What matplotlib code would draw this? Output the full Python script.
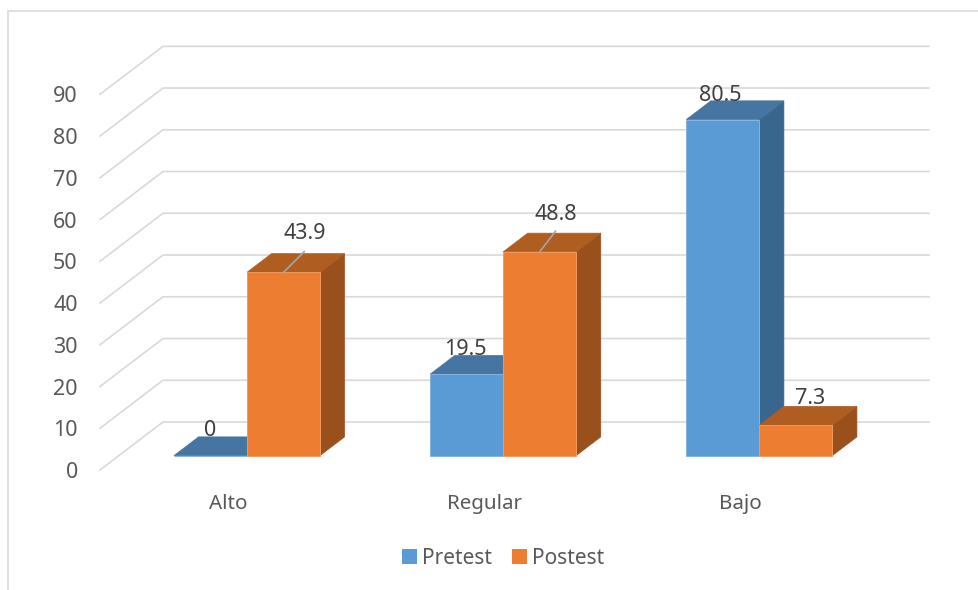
#3D style clustered columns, pretest vs postest per level
import matplotlib.pyplot as plt
from matplotlib.patches import Patch, Polygon
from matplotlib.lines import Line2D

plt.rcParams['font.family'] = ['Noto Sans', 'DejaVu Sans']

categories = ['Alto', 'Regular', 'Bajo']
pretest = [0, 19.5, 80.5]
postest = [43.9, 48.8, 7.3]
y_ticks = [0, 10, 20, 30, 40, 50, 60, 70, 80, 90]

# label offsets from the top of each bar, in points
pre_offsets = [(0, 18), (-1, 17.5), (-2, 17.5)]
post_offsets = [(15, 28), (11.5, 27), (10.5, 19.5)]
# the two tall orange labels hang off a leader line
post_leader = [True, True, False]

W, H = 979, 590
PLOT_L, PLOT_R, PLOT_B, PLOT_T = 100, 868.5, 470, 94.3

fig = plt.figure(figsize=(W / 100, H / 100), dpi=100)
ax = fig.add_axes([PLOT_L / W, 1 - PLOT_B / H, (PLOT_R - PLOT_L) / W, (PLOT_B - PLOT_T) / H])
ax.set_xlim(-0.5, 2.5)
ax.set_ylim(0, 90)

# depth of the floor expressed in data units
DEPTH_X = 63 / ((PLOT_R - PLOT_L) / 3)
DEPTH_Y = 48 / ((PLOT_B - PLOT_T) / 90)
BAR_FRONT = 0.30
BAR_BACK = 0.69
BAR_W = 0.285
GRID_END = 2.49


def shift(x, v, d):
    return x + DEPTH_X * d, v + DEPTH_Y * d


# wall gridlines: diagonal on the side wall, then along the back wall
GRID = '#d9d9d9'
for t in y_ticks:
    x0, y0 = shift(-0.5, t, 0)
    x1, y1 = shift(-0.5, t, 1)
    x2, y2 = shift(GRID_END, t, 1)
    ax.plot([x0, x1, x2], [y0, y1, y2], color=GRID, lw=1.2, clip_on=False, zorder=1,
            solid_joinstyle='miter')


def draw_bar(left, v, front, top, side, edge, z):
    right = left + BAR_W
    fx, fy = shift(0, 0, BAR_FRONT)
    bx, by = shift(0, 0, BAR_BACK)
    # side face
    ax.add_patch(Polygon([(right + fx, fy), (right + bx, by), (right + bx, by + v), (right + fx, fy + v)],
                         facecolor=side, edgecolor=side, lw=0.5, clip_on=False, zorder=z))
    # top face
    ax.add_patch(Polygon([(left + fx, fy + v), (left + bx, by + v), (right + bx, by + v), (right + fx, fy + v)],
                         facecolor=top, edgecolor=top, lw=0.5, clip_on=False, zorder=z))
    # front face
    ax.bar(left + fx, v, width=BAR_W, bottom=fy, align='edge', color=front, edgecolor=edge,
           linewidth=0.7, clip_on=False, zorder=z + 0.1)


for i in range(len(categories)):
    draw_bar(i - BAR_W, pretest[i], '#5b9bd5', '#4675a1', '#38668c', '#85b4e0', 2 + i * 0.5)
    draw_bar(i, postest[i], '#ed7d31', '#b05d22', '#99501c', '#f09a60', 2.2 + i * 0.5)

# data labels
LABEL = '#404040'
FS = 15.5
for i in range(len(categories)):
    x, y = shift(i - BAR_W / 2, pretest[i], BAR_FRONT)
    ax.annotate(str(pretest[i]), (x, y), xytext=pre_offsets[i], textcoords='offset points',
                ha='center', va='center', color=LABEL, fontsize=FS, zorder=5, annotation_clip=False)
    x, y = shift(i + BAR_W / 2, postest[i], BAR_FRONT)
    ax.annotate(str(postest[i]), (x, y), xytext=post_offsets[i], textcoords='offset points',
                ha='center', va='center', color=LABEL, fontsize=FS, zorder=5, annotation_clip=False)
    if post_leader[i]:
        ax.annotate('', (x, y), xytext=(post_offsets[i][0], 15), textcoords='offset points',
                    arrowprops=dict(arrowstyle='-', color='#a6a6a6', lw=1.2, shrinkA=0, shrinkB=0),
                    zorder=5, annotation_clip=False)

# axes
ax.patch.set_visible(False)
for s in ax.spines.values():
    s.set_visible(False)
ax.set_xticks(range(len(categories)), categories)
ax.set_yticks(y_ticks)
ax.tick_params(axis='y', length=0, labelcolor='#595959', labelsize=FS, pad=16)
ax.tick_params(axis='x', length=0, labelcolor='#595959', labelsize=14.8, pad=17)

handles = [Patch(facecolor='#5b9bd5', label='Pretest'), Patch(facecolor='#ed7d31', label='Postest')]
leg = fig.legend(handles=handles, loc='center', bbox_to_anchor=(503.5 / W, 1 - 558.5 / H), ncol=2, frameon=False,
                 fontsize=15, handlelength=0.72, handleheight=0.72, handletextpad=0.25, columnspacing=0.95)
for t in leg.get_texts():
    t.set_color('#595959')

# chart border, only the top and left sides fall inside the image
fx = 8.5 / W
fy = 1 - 11 / H
fig.add_artist(Line2D([fx, fx, 1], [0, fy, fy], color=GRID, lw=1.2, transform=fig.transFigure,
                      solid_joinstyle='miter'))

plt.savefig("out.png", dpi=100)
